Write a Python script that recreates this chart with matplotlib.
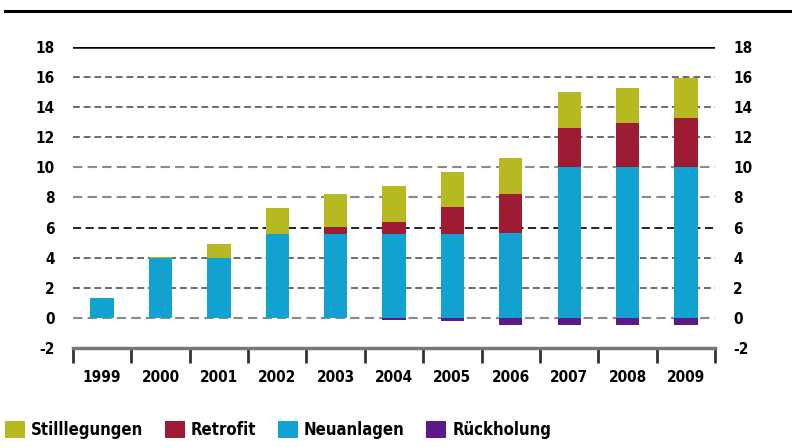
import matplotlib.pyplot as plt
import numpy as np
from matplotlib.patches import Patch
from matplotlib.lines import Line2D

# values (units as on the axis)
years = ['1999', '2000', '2001', '2002', '2003', '2004', '2005', '2006', '2007', '2008', '2009']
neuanlagen = [1.35, 3.95, 4.0, 5.6, 5.6, 5.6, 5.6, 5.65, 10.0, 10.0, 10.0]
retrofit = [0, 0, 0, 0, 0.45, 0.8, 1.75, 2.55, 2.6, 2.95, 3.3]
stilllegungen = [0, 0.08, 0.9, 1.7, 2.2, 2.35, 2.35, 2.45, 2.4, 2.35, 2.65]
rueckholung = [0, 0, 0, 0, 0, -0.15, -0.2, -0.45, -0.45, -0.45, -0.45]

c_still = '#B6B91F'
c_retro = '#9E1B34'
c_neu = '#12A2D2'
c_rueck = '#5B1A87'

plt.rcParams['font.family'] = ['DejaVu Sans']
plt.rcParams['font.stretch'] = 'condensed'
plt.rcParams['font.weight'] = 'bold'
plt.rcParams['axes.unicode_minus'] = False

fig = plt.figure(figsize=(7.92, 4.47), dpi=100)
ax = fig.add_axes([0.092, 0.2215, 0.811, 0.6734])

x = np.arange(len(years))
w = 0.4
neu = np.array(neuanlagen)
ret = np.array(retrofit)
sti = np.array(stilllegungen)

# gridlines behind the bars
for v in [16, 14, 12, 10, 8, 6, 4, 2, 0]:
    if v == 6:
        col, lw = '#111111', 1.3
    elif v in (10, 8, 0):
        col, lw = '#8a8a8a', 1.5
    else:
        col, lw = '#444444', 1.1
    ax.axhline(v, color=col, lw=lw, ls=(0, (4.5, 2.5)), zorder=1)
ax.axhline(18, color='black', lw=1.8, zorder=1)

ax.bar(x, neu, w, color=c_neu, zorder=2)
ax.bar(x, ret, w, bottom=neu, color=c_retro, zorder=2)
ax.bar(x, sti, w, bottom=neu + ret, color=c_still, zorder=2)
ax.bar(x, rueckholung, w, color=c_rueck, zorder=2)

ax.set_xlim(-0.5, len(years) - 0.5)
ax.set_ylim(-2, 18)
ax.set_yticks(range(-2, 19, 2))
ax.tick_params(axis='y', length=0, labelsize=11, pad=13,
               left=False, right=False, labelleft=True, labelright=True)
for lab in ax.get_yticklabels():
    lab.set_fontweight('bold')

# category ticks at the boundaries, labels centred
ax.set_xticks(np.arange(-0.5, len(years), 1.0))
ax.set_xticklabels([])
ax.set_xticks(x, minor=True)
ax.set_xticklabels(years, minor=True, fontsize=11, fontweight='bold')
ax.tick_params(axis='x', which='major', direction='out', length=11, width=2, color='#333333')
ax.tick_params(axis='x', which='minor', length=0, pad=16)

for s in ['top', 'right', 'left']:
    ax.spines[s].set_visible(False)
ax.spines['bottom'].set_color('#777777')
ax.spines['bottom'].set_linewidth(2.5)

# thick rule at the top of the figure
fig.add_artist(Line2D([0.006, 0.998], [0.976, 0.976], color='black', lw=2.2,
                      transform=fig.transFigure))

handles = [Patch(facecolor=c_still, label='Stilllegungen'),
           Patch(facecolor=c_retro, label='Retrofit'),
           Patch(facecolor=c_neu, label='Neuanlagen'),
           Patch(facecolor=c_rueck, label='Rückholung')]
leg = fig.legend(handles=handles, loc='lower left', bbox_to_anchor=(-0.012, -0.015), ncol=4,
                 frameon=False, handlelength=1.2, handleheight=1.2,
                 handletextpad=0.35, columnspacing=1.3,
                 prop={'weight': 'bold', 'size': 12, 'stretch': 'condensed'})

fig.savefig('out.png', dpi=100)
